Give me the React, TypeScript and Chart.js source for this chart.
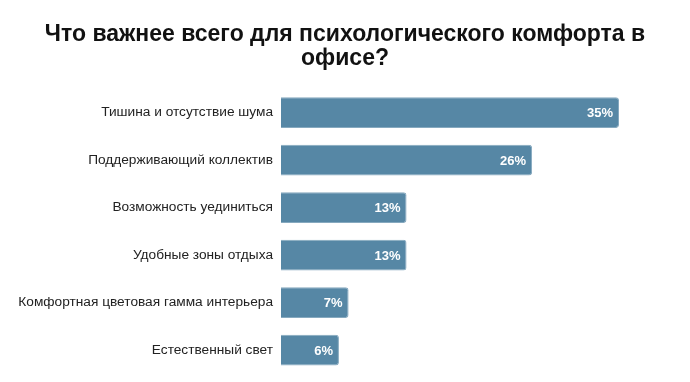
import React, { useEffect, useRef } from "react";
import { Chart, registerables } from "chart.js";

Chart.register(...registerables);

const titleLines = ["Что важнее всего для психологического комфорта в", "офисе?"];
const categories = [
  "Тишина и отсутствие шума",
  "Поддерживающий коллектив",
  "Возможность уединиться",
  "Удобные зоны отдыха",
  "Комфортная цветовая гамма интерьера",
  "Естественный свет",
];
const values = [35, 26, 13, 13, 7, 6];
const axisMax = 42.35;

const valueLabels = {
  id: "valueLabels",
  afterDatasetsDraw(chart: any) {
    const ctx = chart.ctx;
    const meta = chart.getDatasetMeta(0);
    ctx.save();
    ctx.font = "bold 13px 'Liberation Sans', Arial, sans-serif";
    ctx.fillStyle = "#ffffff";
    ctx.textAlign = "right";
    ctx.textBaseline = "middle";
    meta.data.forEach((bar: any, i: number) => {
      ctx.fillText(values[i] + "%", bar.x - 6, bar.y + 1);
    });
    ctx.restore();
  },
};

export default function App() {
  const ref = useRef<HTMLCanvasElement | null>(null);
  useEffect(() => {
    document.body.style.margin = "0";
    const chart = new Chart(ref.current as HTMLCanvasElement, {
      type: "bar",
      data: {
        labels: categories,
        datasets: [
          {
            data: values,
            backgroundColor: "#5687a5",
            borderColor: "#86a9bf",
            borderWidth: 1,
            borderRadius: 3,
            barPercentage: 0.8,
            categoryPercentage: 0.81,
          },
        ],
      },
      options: {
        indexAxis: "y",
        animation: false,
        responsive: false,
        maintainAspectRatio: false,
        layout: { padding: { left: 0, right: 0, top: 0, bottom: 0 } },
        plugins: {
          legend: { display: false },
          tooltip: { enabled: false },
          title: {
            display: true,
            text: titleLines,
            color: "#111111",
            font: { family: "'Liberation Sans', Arial, sans-serif", size: 23, weight: "bold", lineHeight: 1.02 },
            padding: { top: 23, bottom: 19 },
          },
        },
        scales: {
          x: { display: false, min: 0, max: axisMax },
          y: {
            grid: { display: false },
            border: { display: false },
            ticks: {
              color: "#222222",
              padding: 0,
              font: { family: "'Liberation Sans', Arial, sans-serif", size: 13.7 },
            },
            afterFit: (scale: any) => {
              scale.width = 281;
            },
          },
        },
      },
      plugins: [valueLabels],
    });
    return () => chart.destroy();
  }, []);
  return (
    <div style={{ width: 690, height: 382 }}>
      <canvas ref={ref} width={690} height={382} />
    </div>
  );
}
